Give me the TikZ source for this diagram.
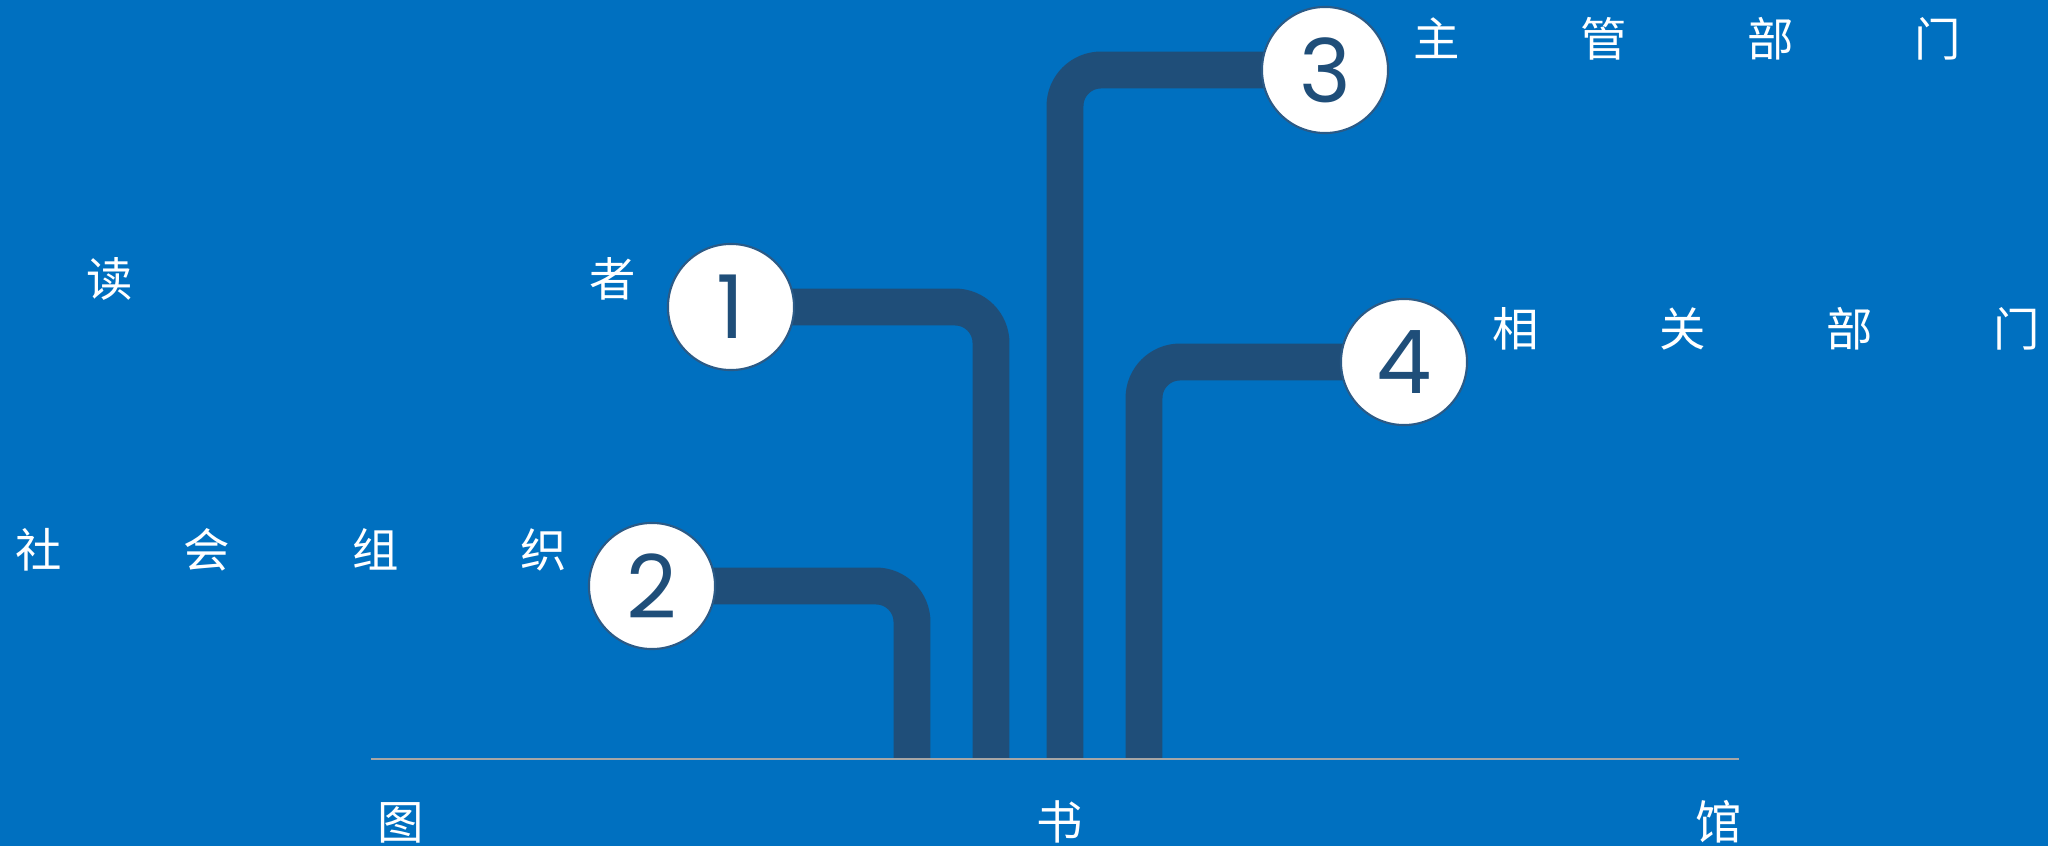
\documentclass[tikz,border=0pt]{standalone}
\usepackage{fontspec}
\setmainfont{Poppins}
\newfontfamily\cjk{Noto Sans CJK SC}
\usepackage{tikz}

\definecolor{bgblue}{HTML}{0070C0}
\definecolor{pipeblue}{HTML}{1F4E79}
\definecolor{rimblue}{HTML}{2B5A86}
\definecolor{linegray}{HTML}{A6A6A6}

\pgfdeclarelayer{back}
\pgfdeclarelayer{pipes}
\pgfsetlayers{back,pipes,main}

\begin{document}
\begin{tikzpicture}[
  x=0.01cm, y=-0.01cm,
  line join=round,
  pipe/.style={draw=pipeblue, line width=10.5pt, rounded corners=0.36cm},
  num/.style={circle, draw=rimblue, line width=0.6pt, fill=white,
    minimum size=1.26cm, inner sep=0pt, text=pipeblue,
    font=\fontsize{25}{25}\selectfont},
  lbl/.style={anchor=west, inner sep=0pt, text=white,
    font=\cjk\fontsize{13.2}{16}\selectfont}
]
  \useasboundingbox (0,0) rectangle (2048,846);
  \begin{pgfonlayer}{back}
    \fill[bgblue] (0,0) rectangle (2048,846);
  \end{pgfonlayer}

  % Numbered discs
  \node[num] (n1) at (731,307) {1};
  \node[num] (n2) at (652,586) {2};
  \node[num] (n3) at (1325,70) {3};
  \node[num] (n4) at (1404,362) {4};

  % Pipe ends on the base line
  \coordinate (e1) at (991,759);
  \coordinate (e2) at (912,759);
  \coordinate (e3) at (1065,759);
  \coordinate (e4) at (1144,759);

  % Pipes (behind the discs)
  \begin{pgfonlayer}{pipes}
    \draw[pipe] (n1.center) -| (e1);
    \draw[pipe] (n2.center) -| (e2);
    \draw[pipe] (n3.center) -| (e3);
    \draw[pipe] (n4.center) -| (e4);
  \end{pgfonlayer}

  % Base line
  \coordinate (l0) at (371,759);
  \coordinate (l1) at (1739,759);
  \draw[draw=linegray, line width=0.85pt] (l0) -- (l1);

  % Labels
  \node[lbl, text width=5.49cm] (duzhe) at (86,279) {读\hfill 者};
  \node[lbl, text width=5.51cm] (shehui) at (15,550) {社\hfill 会\hfill 组\hfill 织};
  \node[lbl, text width=5.47cm] (zhuguan) at (1413,39) {主\hfill 管\hfill 部\hfill 门};
  \node[lbl, text width=5.47cm] (xiangguan) at (1492,329) {相\hfill 关\hfill 部\hfill 门};
  \node[lbl, text width=13.63cm] (tushuguan) at (377,822) {图\hfill 书\hfill 馆};
\end{tikzpicture}
\end{document}
